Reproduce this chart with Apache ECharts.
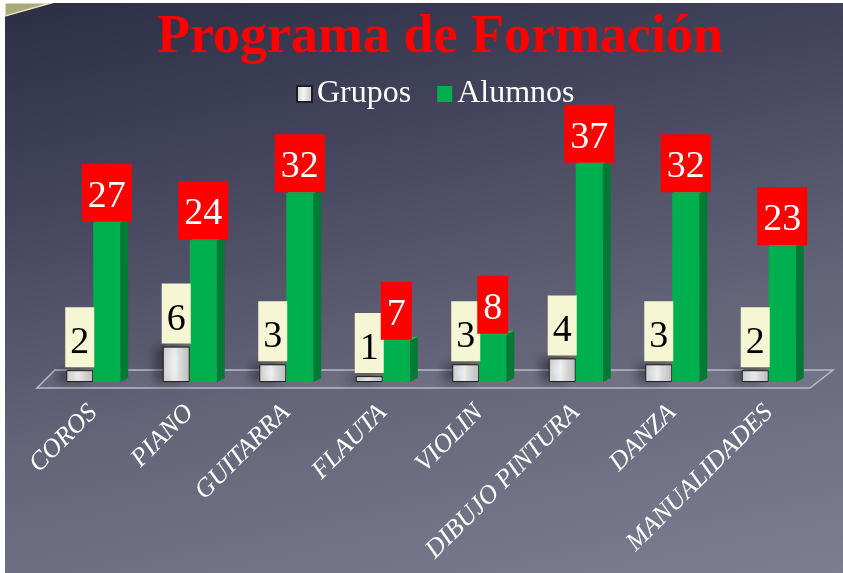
<!DOCTYPE html>
<html>
<head>
<meta charset="utf-8">
<script src="https://cdn.jsdelivr.net/npm/echarts@6/dist/echarts.min.js"></script>
<style>
  html, body { margin: 0; padding: 0; background: #ffffff; }
  #chart {
    position: absolute;
    left: 5px;
    top: 3px;
    width: 838px;
    height: 570px;
    background: linear-gradient(168deg, #2c2e45 0%, #46475e 30%, #636478 60%, #7d7e92 100%);
  }
</style>
</head>
<body>
<div id="chart"></div>
<script>
const categories = ['COROS', 'PIANO', 'GUITARRA', 'FLAUTA', 'VIOLIN', 'DIBUJO PINTURA', 'DANZA', 'MANUALIDADES']
const grupos = [2, 6, 3, 1, 3, 4, 3, 2]
const alumnos = [27, 24, 32, 7, 8, 37, 32, 23]

const chartEl = document.getElementById('chart')
const chart = echarts.init(chartEl)

// layout
const GRID_LEFT = 40
const GRID_RIGHT = 26
const GRID_TOP = 143
const GRID_BOTTOM = 191
const BAR_W = 27
const DEPTH_X = 8
const DEPTH_Y = 4

const W = 838
const H = 570
const baseY = H - GRID_BOTTOM
const gridRightX = W - GRID_RIGHT

// side + top faces of a 3D bar, drawn behind the flat bar
const make3d = (side, sideColor, topColor) => (params, api) => {
  const idx = api.value(0)
  const top = api.coord([idx, api.value(1)])
  const base = api.coord([idx, 0])
  const left = side === 0 ? top[0] - BAR_W : top[0]
  const right = left + BAR_W
  return {
    type: 'group',
    children: [
      {
        type: 'polygon',
        shape: { points: [[right, top[1]], [right + DEPTH_X, top[1] - DEPTH_Y], [right + DEPTH_X, base[1] - DEPTH_Y], [right, base[1]]] },
        style: { fill: sideColor }
      },
      {
        type: 'polygon',
        shape: { points: [[left, top[1]], [left + DEPTH_X, top[1] - DEPTH_Y], [right + DEPTH_X, top[1] - DEPTH_Y], [right, top[1]]] },
        style: { fill: topColor }
      }
    ]
  }
}

const numFont = 'Liberation Serif'

const option = {
  backgroundColor: 'transparent',
  title: {
    text: 'Programa de Formación',
    left: 430,
    textAlign: 'center',
    top: 3,
    textStyle: {
      color: '#ff0000',
      fontFamily: 'Liberation Serif',
      fontWeight: 'bold',
      fontSize: 54
    }
  },
  legend: {
    data: ['Grupos', 'Alumnos'],
    left: 286,
    top: 70,
    icon: 'rect',
    itemWidth: 15,
    itemHeight: 16,
    itemGap: 26,
    textStyle: { color: '#ffffff', fontFamily: 'Liberation Serif', fontSize: 32 }
  },
  graphic: [
    {
      type: 'polygon',
      z: 0,
      shape: { points: [[GRID_LEFT - 8, baseY + 6], [gridRightX - 7, baseY + 6], [gridRightX + 16, baseY - 12], [GRID_LEFT + 10, baseY - 12]] },
      style: { fill: 'rgba(255,255,255,0.06)', stroke: '#b8b9c9', lineWidth: 1.5 }
    },
    {
      type: 'polygon',
      z: 0,
      shape: { points: [[0, 0], [46, 0], [0, 13]] },
      style: { fill: '#a9a97c', stroke: '#e6e6c8', lineWidth: 1.5 }
    }
  ],
  grid: {
    left: GRID_LEFT,
    right: GRID_RIGHT,
    top: GRID_TOP,
    bottom: GRID_BOTTOM,
    containLabel: false
  },
  xAxis: {
    type: 'category',
    data: categories,
    axisLine: { show: false },
    axisTick: { show: false },
    axisLabel: {
      interval: 0,
      rotate: 45,
      margin: 27,
      color: '#ffffff',
      fontFamily: 'Liberation Serif',
      fontStyle: 'italic',
      fontSize: 26
    }
  },
  yAxis: {
    type: 'value',
    min: 0,
    max: 40,
    show: false,
    splitLine: { show: false }
  },
  series: [
    {
      type: 'custom',
      name: 'grupos3d',
      z: 1,
      silent: true,
      renderItem: make3d(0, '#8c8c8c', '#6e6e6e'),
      data: grupos.map((v, i) => [i, v]),
      encode: { x: 0, y: 1 }
    },
    {
      type: 'custom',
      name: 'alumnos3d',
      z: 1,
      silent: true,
      renderItem: make3d(1, '#007b33', '#00c85a'),
      data: alumnos.map((v, i) => [i, v]),
      encode: { x: 0, y: 1 }
    },
    {
      name: 'Grupos',
      type: 'bar',
      z: 3,
      barWidth: BAR_W,
      barGap: '0%',
      data: grupos,
      itemStyle: {
        color: new echarts.graphic.LinearGradient(0, 0, 1, 0, [
          { offset: 0, color: '#cfcfcf' },
          { offset: 0.45, color: '#f4f4f4' },
          { offset: 1, color: '#bdbdbd' }
        ]),
        borderColor: '#1e1e1e',
        borderWidth: 1,
        shadowColor: 'rgba(0,0,0,0.35)',
        shadowBlur: 10,
        shadowOffsetX: -8
      },
      label: {
        show: true,
        position: 'top',
        distance: 3,
        color: '#000000',
        fontFamily: numFont,
        fontSize: 38,
        lineHeight: 36,
        backgroundColor: '#f6f6d4',
        padding: [18, 5, 6, 5]
      }
    },
    {
      name: 'Alumnos',
      type: 'bar',
      z: 3,
      barWidth: BAR_W,
      data: alumnos,
      itemStyle: { color: '#00b04f' },
      label: {
        show: true,
        position: 'top',
        distance: 1,
        color: '#ffffff',
        fontFamily: numFont,
        fontSize: 38,
        lineHeight: 38,
        backgroundColor: '#ff0000',
        padding: [14, 6, 6, 6]
      }
    }
  ]
}

chart.setOption(option)
</script>
</body>
</html>
